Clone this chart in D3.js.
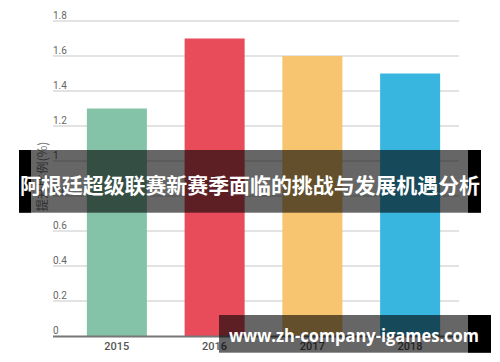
<!DOCTYPE html>
<html><head><meta charset="utf-8">
<script src="https://cdn.jsdelivr.net/npm/d3@7"></script>
<style>body{margin:0;background:#fff}svg{display:block}</style>
</head><body>
<svg id="c" width="500" height="362"></svg>
<script>
const categories = ["2015", "2016", "2017", "2018"];
const values = [1.3, 1.7, 1.6, 1.5];
const colors = ["#84c3a8", "#e84b5a", "#f7c56f", "#38b6e0"];
const yTicks = [0, 0.2, 0.4, 0.6, 0.8, 1, 1.2, 1.4, 1.6, 1.8];
const yTitle = "提升比例(%)";
const bannerText = "阿根廷超级联赛新赛季面临的挑战与发展机遇分析";
const watermark = "www.zh-company-igames.com";

const svg = d3.select("#c");
const y = d3.scaleLinear().domain([0, 1.8]).range([336, 21]);
const x = d3.scaleBand().domain(categories).range([68, 459]).paddingInner(0.386).paddingOuter(0.193);

// grid
svg.append("g").selectAll("line").data(yTicks.filter(d => d > 0)).join("line")
  .attr("x1", 53).attr("x2", 459).attr("y1", d => y(d)).attr("y2", d => y(d))
  .attr("stroke", "#c8c8c8").attr("stroke-width", 1.2);
svg.append("g").selectAll("text").data(yTicks).join("text")
  .attr("x", 53).attr("y", d => y(d) - 2.5)
  .attr("font-family", "Roboto").attr("font-size", 10).attr("fill", "#666")
  .text(d => d3.format("~g")(d));

// bars
svg.append("g").selectAll("rect").data(values).join("rect")
  .attr("x", (d, i) => x(categories[i])).attr("width", x.bandwidth())
  .attr("y", d => y(d)).attr("height", d => y(0) - y(d))
  .attr("fill", (d, i) => colors[i]);

// baseline
svg.append("line").attr("x1", 53).attr("x2", 459).attr("y1", 336.5).attr("y2", 336.5)
  .attr("stroke", "#777").attr("stroke-width", 2);

// x labels
svg.append("g").selectAll("text").data(categories).join("text")
  .attr("x", d => x(d) + x.bandwidth() / 2).attr("y", 349.5)
  .attr("text-anchor", "middle").attr("font-family", "Roboto").attr("font-weight", 500)
  .attr("font-size", 11).attr("fill", "#555").text(d => d);

// y title
svg.append("text").attr("transform", "translate(41,176.5) rotate(-90)")
  .attr("text-anchor", "middle").attr("dominant-baseline", "central")
  .attr("font-family", "Noto Sans CJK SC, Roboto").attr("font-size", 12.5).attr("fill", "#777")
  .text(yTitle);

// banner
svg.append("rect").attr("x", 19).attr("y", 150).attr("width", 462).attr("height", 62.7).attr("fill", "rgba(0,0,0,0.6)");
svg.append("rect").attr("x", 19).attr("y", 150).attr("width", 12).attr("height", 62.7).attr("fill", "#000");
svg.append("rect").attr("x", 468).attr("y", 150).attr("width", 13).attr("height", 62.7).attr("fill", "#000");
svg.append("text").attr("x", 250).attr("y", 183.5).attr("text-anchor", "middle").attr("dominant-baseline", "central")
  .attr("font-family", "Noto Sans CJK SC").attr("font-weight", 700).attr("font-size", 21).attr("fill", "#fff")
  .attr("textLength", 460).attr("lengthAdjust", "spacingAndGlyphs")
  .text(bannerText);

// watermark
svg.append("rect").attr("x", 219).attr("y", 315).attr("width", 272).attr("height", 37.7).attr("fill", "rgba(0,0,0,0.6)");
svg.append("rect").attr("x", 468).attr("y", 315).attr("width", 23).attr("height", 37.7).attr("fill", "#000");
svg.append("text").attr("x", 229).attr("y", 342)
  .attr("font-family", "Open Sans").attr("font-weight", 700).attr("font-size", 17).attr("fill", "#fff")
  .attr("textLength", 250).attr("lengthAdjust", "spacingAndGlyphs")
  .text(watermark);
</script>
</body></html>
